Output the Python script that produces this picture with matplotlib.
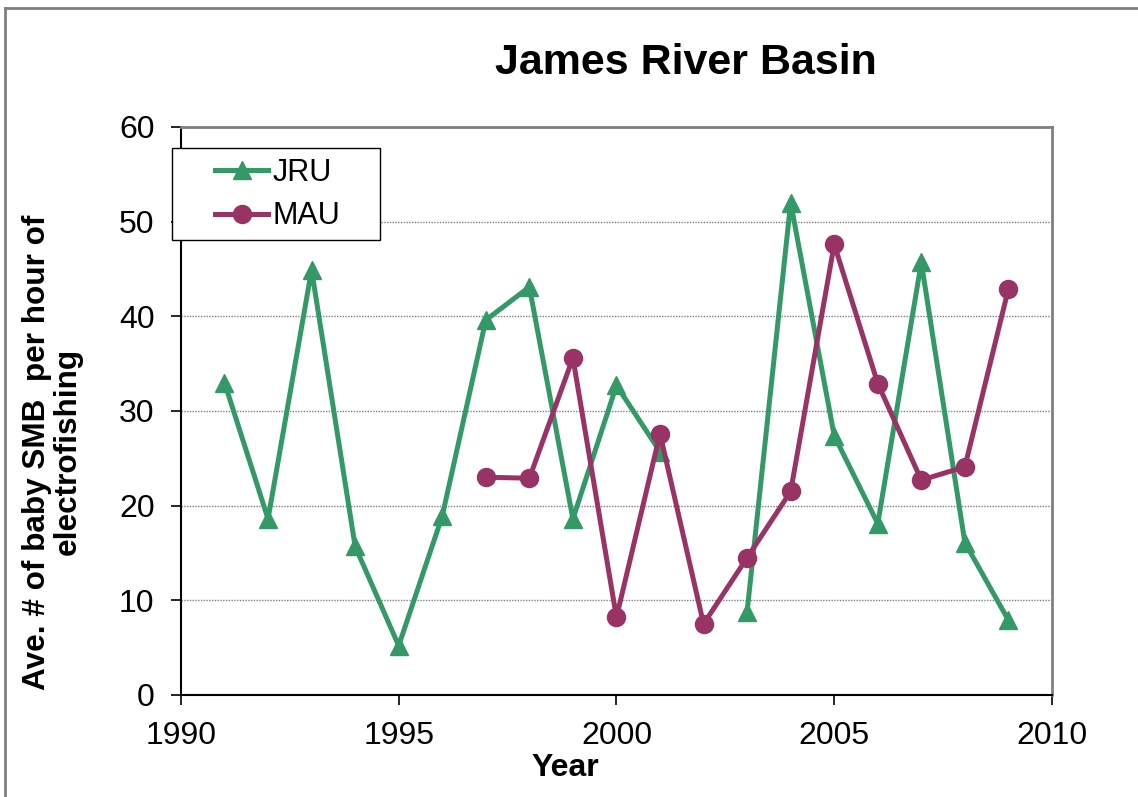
import numpy as np
import matplotlib.pyplot as plt
from matplotlib.lines import Line2D
from matplotlib.patches import Rectangle

plt.rcParams['font.family'] = ['Liberation Sans', 'DejaVu Sans']

years = np.arange(1991, 2010)
# no JRU survey in 2002
jru = [33.0, 18.6, 44.9, 15.7, 5.2, 18.9, 39.6, 43.1, 18.6, 32.7, 25.7,
       np.nan, 8.8, 52.0, 27.4, 18.1, 45.7, 16.1, 7.9]
mau_years = np.arange(1997, 2010)
mau = [23.0, 22.9, 35.6, 8.2, 27.6, 7.5, 14.5, 21.5, 47.6, 32.9, 22.7, 24.1, 42.9]

green = '#339966'
purple = '#993366'

fig = plt.figure(figsize=(11.38, 7.97), dpi=100)
ax = fig.add_axes([0.159, 0.128, 0.7654, 0.7127])

ax.plot(years, jru, color=green, lw=3.6, marker='^', ms=13, label='JRU')
ax.plot(mau_years, mau, color=purple, lw=3.6, marker='o', ms=13, label='MAU')

ax.set_xlim(1990, 2010)
ax.set_ylim(0, 60)
ax.set_xticks(range(1990, 2011, 5))
ax.set_yticks(range(0, 61, 10))
ax.tick_params(axis='both', labelsize=23, direction='out', length=7, width=1.2,
               color='black')
ax.tick_params(axis='x', pad=12)
ax.tick_params(axis='y', pad=12)
ax.yaxis.grid(True, ls=(0, (1, 1)), color='#808080', lw=1)
ax.set_axisbelow(True)

for s in ['left', 'bottom']:
    ax.spines[s].set_color('black')
    ax.spines[s].set_linewidth(1.5)
for s in ['top', 'right']:
    ax.spines[s].set_color('#808080')
    ax.spines[s].set_linewidth(2)

fig.text(0.603, 0.921, 'James River Basin', ha='center', va='center',
         fontsize=31, fontweight='bold')
fig.text(0.4965, 0.037, 'Year', ha='center', va='center',
         fontsize=23, fontweight='bold')
fig.text(0.046, 0.433, 'Ave. # of baby SMB  per hour of\nelectrofishing',
         ha='center', va='center', rotation=90, fontsize=22.7,
         fontweight='bold', linespacing=1.0)

# legend box drawn separately so the padding can be wider than the text
ax.add_patch(Rectangle((172 / 1138, 1 - 240 / 797), 208 / 1138, 92 / 797,
                       transform=fig.transFigure, facecolor='white',
                       edgecolor='black', lw=1, clip_on=False, zorder=4))
leg = ax.legend(loc='center left', bbox_to_anchor=(215 / 1138, 0.756),
                bbox_transform=fig.transFigure, borderaxespad=0, borderpad=0,
                fontsize=22, frameon=False, handlelength=1.75,
                handletextpad=0.12, labelspacing=0.45)
leg.set_zorder(5)

# outer frame around the chart area
fig.add_artist(Line2D([5 / 1138, 5 / 1138], [0, 1 - 8 / 797],
                      transform=fig.transFigure, color='#808080', lw=2))
fig.add_artist(Line2D([5 / 1138, 1], [1 - 8 / 797, 1 - 8 / 797],
                      transform=fig.transFigure, color='#808080', lw=2))

fig.savefig('out.png', dpi=100)
